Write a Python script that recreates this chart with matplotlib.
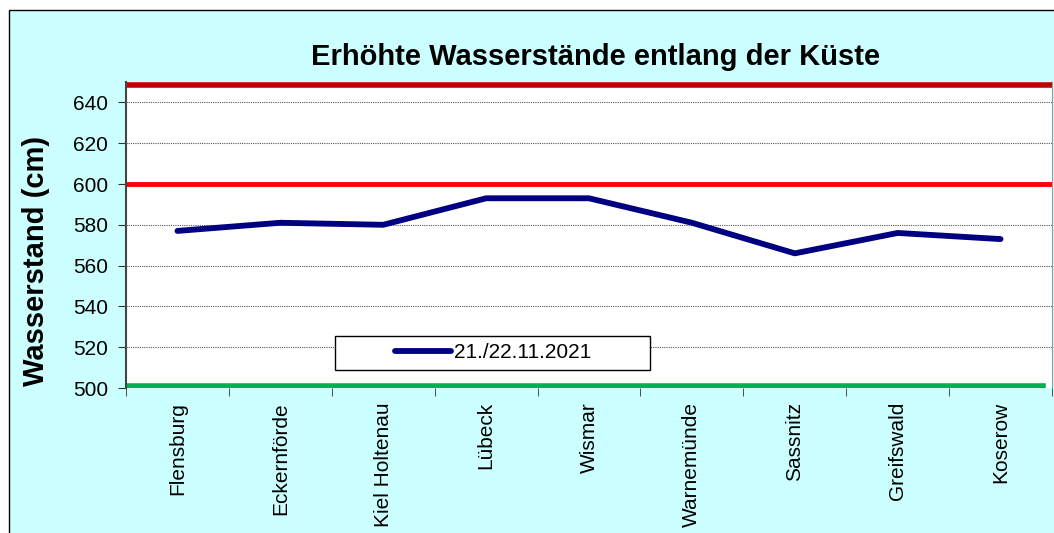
import numpy as np
import matplotlib.pyplot as plt
from matplotlib.patches import Rectangle

stations = ["Flensburg", "Eckernförde", "Kiel Holtenau", "Lübeck", "Wismar",
            "Warnemünde", "Sassnitz", "Greifswald", "Koserow"]
levels = [577, 581, 580, 593, 593, 581, 566, 576, 573]
series_name = "21./22.11.2021"
yticks = [500, 520, 540, 560, 580, 600, 620, 640]

plt.rcParams['font.family'] = ['Liberation Sans', 'DejaVu Sans']

W, H = 1054, 533
fig = plt.figure(figsize=(W / 100, H / 100), dpi=100)

# light cyan chart area with black frame (runs off right/bottom)
fig.patches.append(Rectangle((9 / W, -0.1), 1.2, 1 - 10 / H + 0.1, transform=fig.transFigure,
                             facecolor="#CCFFFF", edgecolor="black", lw=1, zorder=-1))

ax = fig.add_axes([126 / W, 1 - 388 / H, 926 / W, 306 / H])
ax.set_facecolor("white")

x = np.arange(len(stations))
ax.set_xlim(-0.5, len(stations) - 0.5)
ax.set_ylim(500, 650)

for y in yticks[1:]:
    ax.axhline(y, color="#555555", lw=0.8, ls=(0, (1, 1)), zorder=1)
ax.axhline(648.6, color="#C00000", lw=4, zorder=2)
ax.axhline(600, color="#FF0000", lw=3.5, zorder=2)
ax.axhline(501, xmax=0.99, color="#00B050", lw=4, zorder=2)

ax.plot(x, levels, color="#000080", lw=4.2, solid_capstyle="round", label=series_name, zorder=3)

ax.set_yticks(yticks)
ax.set_xticks(x)
ax.set_xticks(np.arange(len(stations) + 1) - 0.5, minor=True)
ax.set_xticklabels(stations, rotation=90, fontsize=15, va="top")
ax.tick_params(axis="x", which="major", length=0, pad=10)
ax.tick_params(axis="x", which="minor", length=6, direction="out", color="#333333")
ax.tick_params(axis="y", labelsize=15, length=6, color="#333333", pad=7)

for s in ["top", "bottom"]:
    ax.spines[s].set_visible(False)
ax.spines["left"].set_color("#444444")
ax.spines["left"].set_linewidth(1.5)
ax.spines["right"].set_color("#999999")

ax.set_ylabel("Wasserstand (cm)", fontsize=21, fontweight="bold")
ax.yaxis.set_label_coords(-0.082, 0.415)
fig.text(596 / W, 1 - 57 / H, "Erhöhte Wasserstände entlang der Küste",
         fontsize=21, fontweight="bold", ha="center", va="center")

# legend box
box = Rectangle((335 / W, 1 - 370 / H), 315 / W, 34 / H, transform=fig.transFigure,
                facecolor="white", edgecolor="black", lw=1, zorder=4, clip_on=False)
ax.add_artist(box)
leg = ax.legend(loc="center", bbox_to_anchor=(493 / W, 1 - 353 / H),
                bbox_transform=fig.transFigure, frameon=False, fontsize=15,
                handlelength=2.7, handletextpad=0.1)
leg.set_zorder(5)

fig.savefig("out.png", dpi=100)
